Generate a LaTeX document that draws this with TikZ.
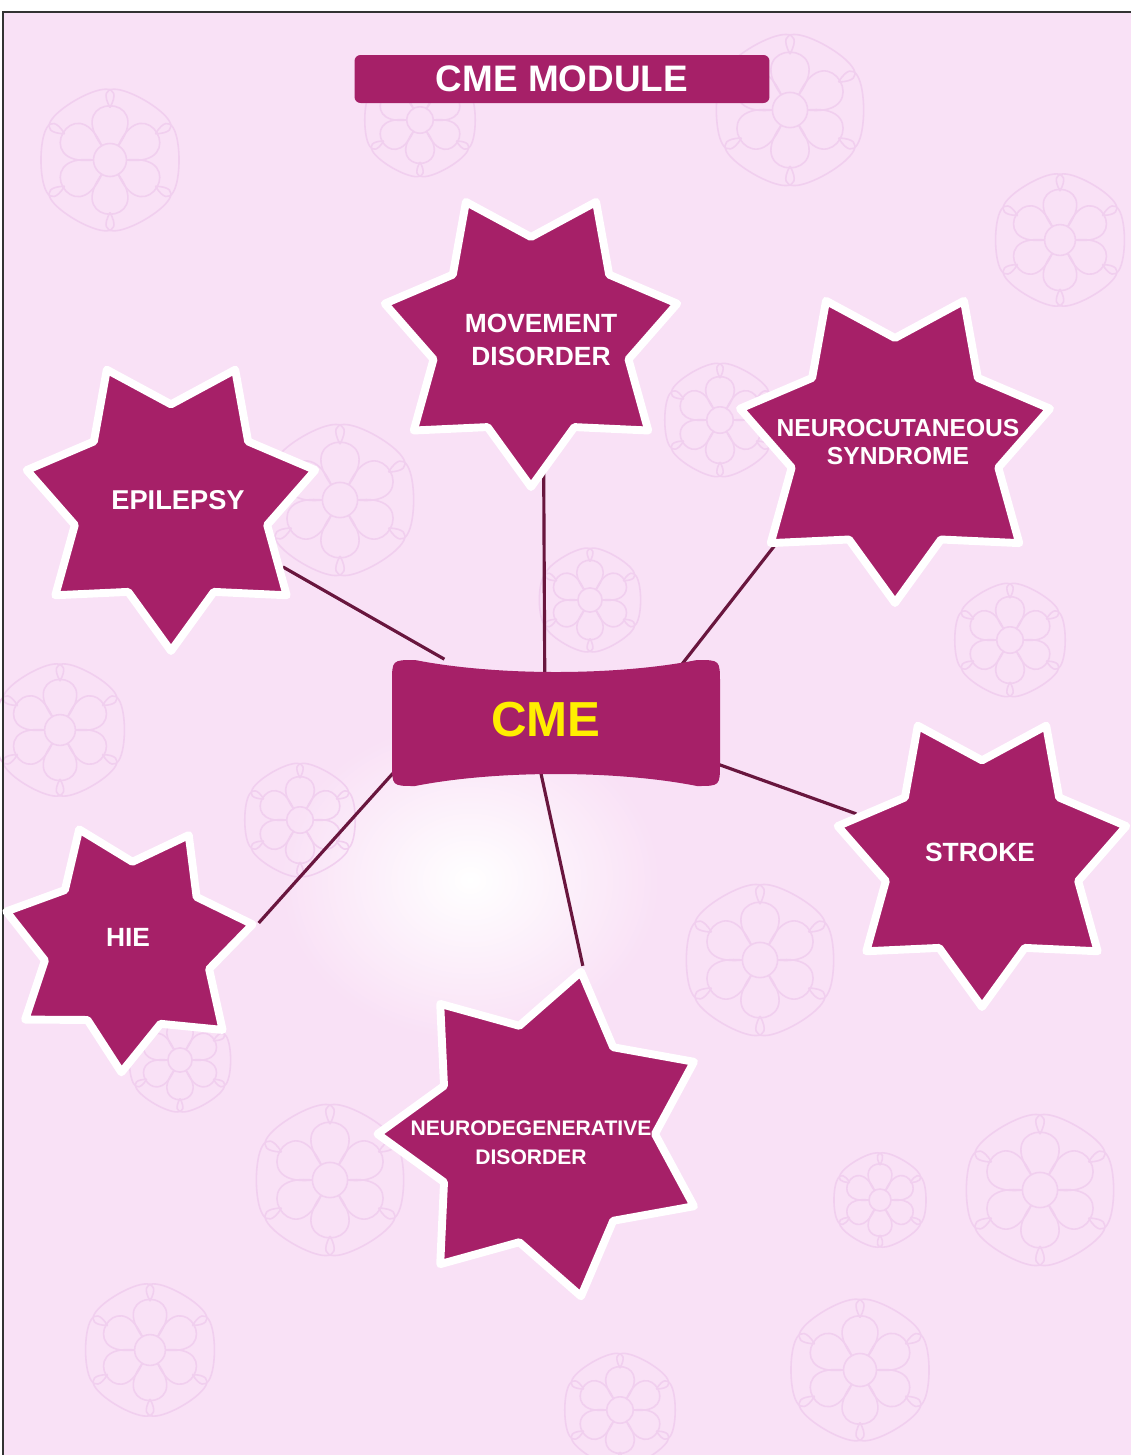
\documentclass[tikz,border=0pt]{standalone}
\usepackage{fontspec}
\setmainfont{Liberation Sans}
\usetikzlibrary{shapes.geometric}
\definecolor{plum}{RGB}{166,32,104}
\definecolor{wine}{RGB}{105,22,62}
\definecolor{blush}{RGB}{249,225,246}
\definecolor{vein}{RGB}{241,207,239}
\definecolor{cmeyellow}{RGB}{255,238,0}
\pgfdeclarelayer{back}
\pgfdeclarelayer{mid}
\pgfsetlayers{back,mid,main}
\begin{document}
\begin{tikzpicture}[x=0.02cm,y=-0.02cm,
  blob/.style={star,star points=7,star point ratio=1.5,shape border rotate=180,inner sep=0pt,
    fill=plum,draw=white,line width=4.5pt,line join=round},
  lbl/.style={text=white,font=\bfseries\fontsize{15}{18.5}\selectfont,align=center,inner sep=0pt},
  link/.style={wine,line width=1.8pt},
  petal/.style={vein,line width=0.9pt}]
\useasboundingbox (0,0) rectangle (1131,1455);

\node[blob,minimum size=5.92cm,label={[lbl,font=\bfseries\fontsize{15.5}{18}\selectfont,xshift=0.14cm,yshift=0.06cm]center:EPILEPSY}] (epi) at (171,503) {};
\node[blob,minimum size=6.0cm,label={[lbl,xshift=0.2cm,yshift=-0.06cm]center:MOVEMENT\\DISORDER}] (move) at (531,337) {};
\node[blob,minimum size=6.36cm,label={[lbl,font=\bfseries\fontsize{14}{15.5}\selectfont,xshift=0.06cm,yshift=0.04cm]center:NEUROCUTANEOUS\\SYNDROME}] (neuro) at (895,444) {};
\node[blob,minimum size=5.92cm,label={[lbl,xshift=-0.04cm,yshift=0.14cm]center:STROKE}] (stroke) at (982,859) {};
\node[blob,minimum size=5.06cm,shape border rotate=177,label={[lbl,yshift=0.18cm]center:HIE}] (hie) at (128,946) {};
\node[blob,minimum size=6.66cm,shape border rotate=90,label={[lbl,font=\bfseries\fontsize{12}{16.5}\selectfont,xshift=-0.26cm,yshift=-0.18cm]center:NEURODEGENERATIVE\\DISORDER}] (ndeg) at (544,1134) {};

\node[minimum width=6.56cm,minimum height=2.54cm,inner sep=0pt,
  label={[text=cmeyellow,font=\bfseries\fontsize{28}{30}\selectfont,xshift=-0.2cm,yshift=0.06cm]center:CME}] (cme) at (556,723) {};
\node[fill=plum,rounded corners=0.12cm,minimum width=8.3cm,minimum height=0.96cm,inner sep=0pt,
  text=white,font=\bfseries\fontsize{21}{24}\selectfont] (hdr) at (562,79) {CME MODULE};

\begin{pgfonlayer}{mid}
\begin{scope}[shift={(cme.center)}]
\fill[plum] (-164,-40) -- (-164,40) .. controls (-164,63) .. (-141,63)
  .. controls (-60,47) and (60,47) .. (141,63)
  .. controls (164,63) .. (164,40) -- (164,-40)
  .. controls (164,-63) .. (141,-63)
  .. controls (60,-47) and (-60,-47) .. (-141,-63)
  .. controls (-164,-63) .. (-164,-40) -- cycle;
\end{scope}
\end{pgfonlayer}

\begin{pgfonlayer}{back}
\fill[white] (0,0) rectangle (1131,1455);
\fill[blush] (3,12) rectangle (1131,1455);
\shade[inner color=white,outer color=blush] (470,880) ellipse[x radius=190,y radius=160];
\foreach \flx/\fly/\flr in {110/160/75,420/120/60,790/110/80,1060/240/70,340/500/80,720/420/60,
  60/730/70,300/820/60,760/960/80,1040/1190/80,330/1180/80,150/1350/70,860/1370/75,620/1410/60,
  1010/640/60,590/600/55,180/1060/55,880/1200/50}{
  \begin{scope}[shift={(\flx,\fly)}]
  \draw[petal] (0,0) circle[radius=0.22*\flr];
  \foreach \a in {0,60,...,300}
    \draw[petal] (\a:0.22*\flr) .. controls (\a-5:1.1*\flr) and (\a+65:1.1*\flr) .. (\a+60:0.22*\flr);
  \foreach \a in {30,90,...,330}
    \draw[petal] (\a:0.7*\flr) .. controls (\a-15:1.45*\flr) and (\a+75:1.45*\flr) .. (\a+60:0.7*\flr);
  \end{scope}
}
\draw[black!80,line width=1.2pt] (3,1455) -- (3,12) -- (1131,12);

\draw[link] (epi) -- (cme);
\draw[link] ([xshift=0.24cm]move.center) -- ([xshift=-0.22cm]cme.center);
\draw[link] ([xshift=-0.82cm]neuro.center) -- ([xshift=1.6cm]cme.center);
\draw[link] (stroke) -- ([yshift=0.34cm]cme.center);
\draw[link] (hie.10) -- ([xshift=-2.36cm]cme.center);
\draw[link] (ndeg.77) -- ([xshift=-0.52cm]cme.center);
\end{pgfonlayer}
\end{tikzpicture}
\end{document}
